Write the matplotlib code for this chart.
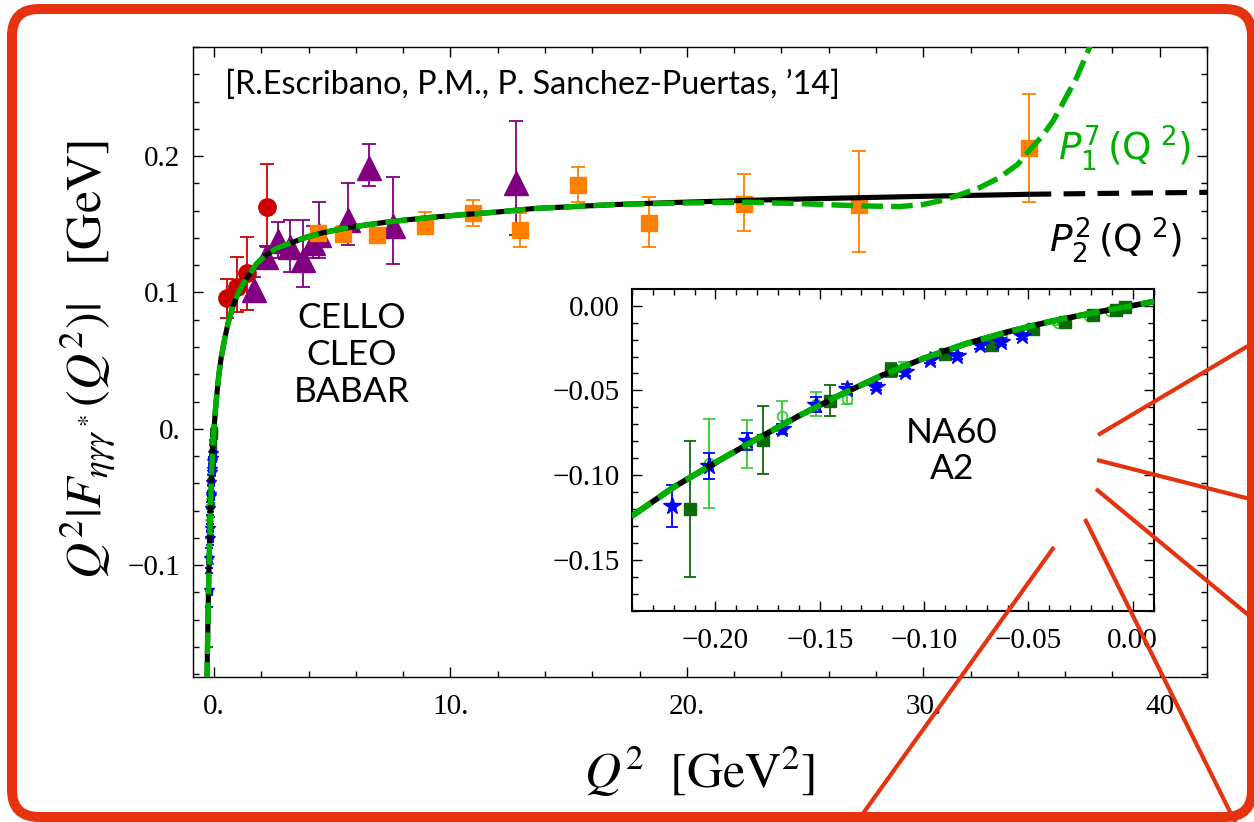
import matplotlib
matplotlib.use("Agg")
import matplotlib.pyplot as plt
from matplotlib.patches import FancyBboxPatch
from matplotlib.lines import Line2D
from matplotlib.transforms import IdentityTransform
from matplotlib.ticker import FixedLocator, FixedFormatter, MultipleLocator

W, H = 1254, 822

# ---------------- spacelike data (Q^2 > 0) ----------------
cello_q2 = [0.56, 0.96, 1.41, 2.23]
cello_val = [0.0956, 0.104, 0.114, 0.163]
cello_lo = [0.014, 0.018, 0.027, 0.030]
cello_hi = [0.014, 0.022, 0.027, 0.031]

cleo_q2 = [1.70, 2.20, 2.72, 3.21, 3.75, 4.20, 4.45, 5.68, 6.57, 7.56, 12.77]
cleo_val = [0.102, 0.126, 0.138, 0.133, 0.124, 0.136, 0.142, 0.153, 0.191, 0.149, 0.180]
cleo_lo = [0.008, 0.008, 0.013, 0.018, 0.020, 0.011, 0.017, 0.018, 0.013, 0.028, 0.038]
cleo_hi = [0.009, 0.008, 0.014, 0.020, 0.029, 0.013, 0.024, 0.027, 0.018, 0.036, 0.046]

babar_q2 = [4.41, 5.47, 6.88, 8.92, 10.96, 12.94, 15.40, 18.40, 22.40, 27.30, 34.45]
babar_val = [0.1437, 0.143, 0.142, 0.149, 0.158, 0.146, 0.1785, 0.151, 0.1648, 0.164, 0.2056]
babar_lo = [0.005, 0.005, 0.004, 0.006, 0.009, 0.013, 0.012, 0.0175, 0.020, 0.034, 0.039]
babar_hi = [0.005, 0.006, 0.004, 0.010, 0.010, 0.012, 0.0135, 0.019, 0.022, 0.040, 0.040]

# ---------------- timelike data (Q^2 < 0) ----------------
na60_q2 = [-0.221, -0.203, -0.185, -0.168, -0.152, -0.137, -0.123, -0.109,
           -0.097, -0.084, -0.073, -0.063, -0.053]
na60_val = [-0.118, -0.0946, -0.080, -0.0727, -0.0583, -0.0490, -0.0477, -0.0393,
            -0.0318, -0.0297, -0.0235, -0.0213, -0.0179]
na60_err = [0.0125, 0.0075, 0.005, 0.003, 0.0046, 0.003, 0.002, 0.002,
            0.002, 0.002, 0.002, 0.002, 0.002]

a2a_q2 = [-0.212, -0.177, -0.145, -0.116, -0.090, -0.0675, -0.048, -0.0325,
          -0.019, -0.008, -0.0035]
a2a_val = [-0.120, -0.079, -0.056, -0.038, -0.0283, -0.023, -0.0137, -0.0096,
           -0.0053, -0.0026, -0.001]
a2a_err = [0.040, 0.020, 0.009, 0.004, 0.002, 0.002, 0.0015, 0.0012,
           0.001, 0.001, 0.001]

a2b_q2 = [-0.203, -0.185, -0.168, -0.152, -0.137, -0.1095, -0.0625, -0.036,
          -0.021, -0.011]
a2b_val = [-0.093, -0.0815, -0.065, -0.058, -0.055, -0.036, -0.019, -0.0104,
           -0.0059, -0.003]
a2b_err = [0.026, 0.014, 0.009, 0.0068, 0.0027, 0.003, 0.0015, 0.001,
           0.001, 0.001]

# ---------------- Pade approximants ----------------
p22_q2 = [-0.30, -0.27, -0.24, -0.22, -0.20, -0.18, -0.16, -0.14, -0.12, -0.10,
          -0.08, -0.06, -0.04, -0.02, 0.0, 0.05, 0.1, 0.2, 0.3, 0.45, 0.6, 0.8,
          1.0, 1.25, 1.5, 1.8, 2.2, 2.65, 3.2, 3.9, 4.6, 5.5, 6.5, 7.5, 9.0,
          10.5, 12.0, 13.5, 15.0, 17.0, 19.5, 22.5, 26.0, 30.0, 34.5]
p22_val = [-0.187, -0.153, -0.124, -0.107, -0.0925, -0.0785, -0.065, -0.0525,
           -0.041, -0.031, -0.0225, -0.0155, -0.0095, -0.0045, 0.0, 0.012,
           0.022, 0.039, 0.052, 0.066, 0.078, 0.090, 0.099, 0.107, 0.1135,
           0.121, 0.1275, 0.1325, 0.136, 0.1405, 0.1438, 0.147, 0.1497, 0.152,
           0.1548, 0.157, 0.159, 0.1615, 0.1628, 0.1645, 0.166, 0.1675, 0.169,
           0.1705, 0.172]
p22_ext_q2 = [34.5, 38.0, 42.5]
p22_ext_val = [0.172, 0.1727, 0.1735]

p17_q2 = [-0.30, -0.27, -0.24, -0.22, -0.20, -0.18, -0.16, -0.14, -0.12, -0.10,
          -0.08, -0.06, -0.04, -0.02, 0.0, 0.05, 0.1, 0.2, 0.3, 0.45, 0.6, 0.8,
          1.0, 1.25, 1.5, 1.8, 2.2, 2.65, 3.2, 3.9, 4.6, 5.5, 6.5, 7.5, 9.0,
          10.5, 12.0, 13.5, 15.0, 17.0, 19.5, 22.5, 25.0, 27.3, 29.0, 30.0,
          30.8, 31.6, 32.4, 33.2, 34.0, 34.5, 35.0, 35.5, 35.9, 36.5, 37.04, 37.4]
p17_val = [-0.187, -0.153, -0.124, -0.107, -0.0925, -0.0785, -0.065, -0.0525,
           -0.041, -0.031, -0.0225, -0.0155, -0.0095, -0.0045, 0.0, 0.012,
           0.022, 0.039, 0.052, 0.066, 0.078, 0.090, 0.099, 0.107, 0.1135,
           0.121, 0.1275, 0.1325, 0.136, 0.1405, 0.1438, 0.147, 0.1497, 0.152,
           0.1548, 0.157, 0.159, 0.1615, 0.1628, 0.1645, 0.1655, 0.1662, 0.165,
           0.1635, 0.163, 0.1645, 0.1675, 0.172, 0.177, 0.184, 0.194, 0.2045,
           0.214, 0.226, 0.2387, 0.258, 0.280, 0.294]

# ---------------- tick labels ----------------
main_xticks = [0, 10, 20, 30, 40]
main_xlabels = ["0.", "10.", "20.", "30.", "40"]
main_yticks = [-0.1, 0.0, 0.1, 0.2]
main_ylabels = ["\u22120.1", "0.", "0.1", "0.2"]
inset_xticks = [-0.20, -0.15, -0.10, -0.05, 0.0]
inset_xlabels = ["\u22120.20", "\u22120.15", "\u22120.10", "\u22120.05", "0.00"]
inset_yticks = [0.0, -0.05, -0.10, -0.15]
inset_ylabels = ["0.00", "\u22120.05", "\u22120.10", "\u22120.15"]

RED = "#cc0000"
PURPLE = "#800080"
ORANGE = "#ff8000"
BLUE = "#0000ff"
DKGREEN = "#0b6b0b"
LTGREEN = "#2ecc2e"
CURVE_GREEN = "#00b000"
BORDER = "#e5330f"

plt.rcParams["font.family"] = ["Liberation Serif", "DejaVu Serif"]
plt.rcParams["axes.unicode_minus"] = True

fig = plt.figure(figsize=(W / 100, H / 100), dpi=100)
fig.patch.set_facecolor("white")


def px_axes(left, top, right, bottom):
    return [left / W, 1 - bottom / H, (right - left) / W, (bottom - top) / H]


def style_axes(a, lw):
    for s in a.spines.values():
        s.set_linewidth(lw)
        s.set_color("black")
    a.tick_params(which="both", direction="in", top=True, right=True,
                  labelsize=21, width=1.0, colors="black")
    a.tick_params(which="major", length=7, pad=9)
    a.tick_params(which="minor", length=4)


def draw_curves(a, lw_scale=1.0):
    a.plot(p22_q2, p22_val, color="black", lw=3.7 * lw_scale,
           solid_capstyle="butt", zorder=5)
    a.plot(p22_ext_q2, p22_ext_val, color="black", lw=3.7 * lw_scale,
           linestyle=(0, (4.2, 2.4)), zorder=5)
    a.plot(p17_q2, p17_val, color=CURVE_GREEN, lw=3.9 * lw_scale,
           linestyle=(0, (4.0, 1.5)), zorder=6)


def draw_timelike(a, ms_scale=1.0, cap=4):
    a.errorbar(a2b_q2, a2b_val, yerr=a2b_err, fmt="o", mfc="none", mec=LTGREEN,
               ecolor=LTGREEN, ms=7 * ms_scale, mew=1.2, elinewidth=1.3,
               capsize=cap, capthick=1.3, zorder=3)
    a.errorbar(a2a_q2, a2a_val, yerr=a2a_err, fmt="s", color=DKGREEN,
               ms=8 * ms_scale, elinewidth=1.3, capsize=cap, capthick=1.3,
               zorder=3)
    a.errorbar(na60_q2, na60_val, yerr=na60_err, fmt="*", color=BLUE,
               ms=13 * ms_scale, elinewidth=1.3, capsize=cap, capthick=1.3,
               zorder=4)


# ---------------- main panel ----------------
ax = fig.add_axes(px_axes(193, 47, 1207, 677))
style_axes(ax, 1.0)
ax.set_xlim(-0.89, 42.0)
ax.set_ylim(-0.182, 0.280)
ax.xaxis.set_major_locator(FixedLocator(main_xticks))
ax.xaxis.set_major_formatter(FixedFormatter(main_xlabels))
ax.xaxis.set_minor_locator(MultipleLocator(2))
ax.yaxis.set_major_locator(FixedLocator(main_yticks))
ax.yaxis.set_major_formatter(FixedFormatter(main_ylabels))
ax.yaxis.set_minor_locator(MultipleLocator(0.02))
ax.tick_params(axis="x", which="major", pad=12)

ax.errorbar(cello_q2, cello_val, yerr=[cello_lo, cello_hi], fmt="o", color=RED,
            ms=12.5, elinewidth=1.3, capsize=5, capthick=1.3, zorder=3)
ax.errorbar(cleo_q2, cleo_val, yerr=[cleo_lo, cleo_hi], fmt="^", color=PURPLE,
            ms=17, elinewidth=1.3, capsize=5, capthick=1.3, zorder=3)
ax.errorbar(babar_q2, babar_val, yerr=[babar_lo, babar_hi], fmt="s", color=ORANGE,
            ms=11.5, elinewidth=1.3, capsize=5, capthick=1.3, zorder=3)
draw_timelike(ax, ms_scale=0.55, cap=3)
draw_curves(ax)

fig.text(225 / W, 1 - 85 / H, "[R.Escribano, P.M., P. Sanchez-Puertas, \u201914]",
         family="Lato", fontsize=23.3, ha="left", va="center")
fig.text(352 / W, 1 - 355 / H, "CELLO\nCLEO\nBABAR", family="Lato", fontsize=25.5,
         ha="center", va="center", linespacing=1.18)
fig.text(1058 / W, 1 - 148 / H, r"$P_{\mathit{1}}^{\mathit{7}}\,(\mathrm{Q}^{\ 2})$",
         math_fontfamily="dejavusans", fontsize=27, color=CURVE_GREEN,
         ha="left", va="center")
fig.text(1049 / W, 1 - 240 / H, r"$P_{\mathit{2}}^{\mathit{2}}\,(\mathrm{Q}^{\ 2})$",
         math_fontfamily="dejavusans", fontsize=27, color="black",
         ha="left", va="center")

fig.text(700 / W, 1 - 772 / H, r"$Q^2\ \ [\mathrm{GeV}^2]$", math_fontfamily="stix",
         fontsize=36, ha="center", va="center")
fig.text(88 / W, 1 - 360 / H,
         r"$Q^2|F_{\eta\gamma\gamma^*}(Q^2)|\ \ \ [\mathrm{GeV}]$",
         math_fontfamily="stix", fontsize=36, rotation=90,
         ha="center", va="center")

# ---------------- inset: timelike region ----------------
ins = fig.add_axes(px_axes(632, 289, 1154, 611))
ins.set_facecolor("white")
style_axes(ins, 1.5)
ins.set_xlim(-0.240, 0.0102)
ins.set_ylim(-0.180, 0.0098)
ins.xaxis.set_major_locator(FixedLocator(inset_xticks))
ins.xaxis.set_major_formatter(FixedFormatter(inset_xlabels))
ins.xaxis.set_minor_locator(MultipleLocator(0.01))
ins.yaxis.set_major_locator(FixedLocator(inset_yticks))
ins.yaxis.set_major_formatter(FixedFormatter(inset_ylabels))
ins.yaxis.set_minor_locator(MultipleLocator(0.01))
ins.tick_params(axis="x", which="major", pad=12)
draw_timelike(ins)
draw_curves(ins, lw_scale=1.1)
fig.text(952 / W, 1 - 451 / H, "NA60\nA2", family="Lato", fontsize=25.5,
         ha="center", va="center", linespacing=1.15)

# ---------------- red frame and rays ----------------
frame = FancyBboxPatch((12, 5), 1240, 808,
                       boxstyle="round,pad=0,rounding_size=27",
                       transform=IdentityTransform(), fill=False,
                       edgecolor=BORDER, linewidth=7.2, zorder=20)
fig.add_artist(frame)

rays = [((1098, 435), (1258, 340)),
        ((1097, 460), (1258, 501)),
        ((1096, 489), (1258, 623)),
        ((1085, 519), (1237, 826)),
        ((1054, 547), (854, 826))]
for (x0, y0), (x1, y1) in rays:
    fig.add_artist(Line2D([x0, x1], [H - y0, H - y1], transform=IdentityTransform(),
                          color=BORDER, lw=3.0, solid_capstyle="butt", zorder=21))

fig.savefig("out.png", dpi=100)
